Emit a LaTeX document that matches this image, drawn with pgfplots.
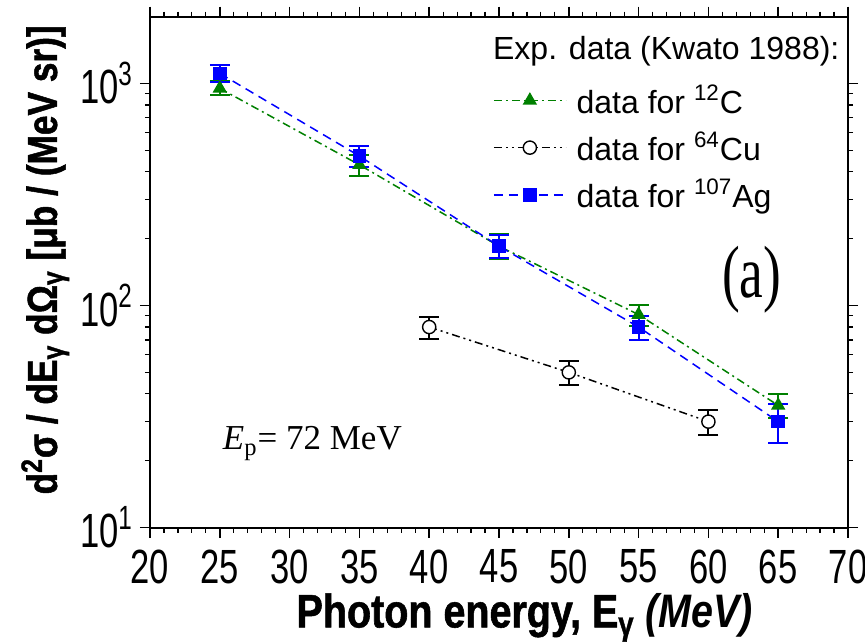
\documentclass[border=0pt]{standalone}
\usepackage{pgfplots}
\pgfplotsset{compat=1.18}
\usepackage{fontspec}
\setmainfont{Liberation Sans}
\newfontfamily\cond[FakeStretch=0.72]{Liberation Sans}
\newfontfamily\labf[FakeStretch=0.84, BoldFeatures={FakeBold=1.2}]{Liberation Sans}
\newfontfamily\serf{Liberation Serif}
\definecolor{cgreen}{RGB}{0,128,0}
\definecolor{cblue}{RGB}{0,0,255}
\pgfplotstableread{
x y ep em
25 950 75 65
35 430 48 48
45 185 24 23
55 91 10 10
65 35.5 4.5 4.5
}\dataC
\pgfplotstableread{
x y ep em
40 80 9 9
50 50 6 6
60 30 4 4
}\dataCu
\pgfplotstableread{
x y ep em
25 1110 100 100
35 471 51 51
45 185 23 22
55 80 9.5 10
65 30 6 6
}\dataAg
\begin{document}
\begin{tikzpicture}
\begin{axis}[
 scale only axis, width=349pt, height=255.5pt,
 xmin=20, xmax=70, ymode=log, ymin=10, ymax=2000,
 xtick={20,25,...,70}, minor x tick num=4,
 ytick={10,100,1000},
 yticklabels={10\textsuperscript{1},10\textsuperscript{2},10\textsuperscript{3}},
 tick align=outside,
 major tick length=5pt, minor tick length=2.5pt,
 axis line style={line width=1pt},
 major tick style={line width=0.8pt, black},
 minor tick style={line width=0.6pt, black},
 /pgf/number format/assume math mode=true,
 xticklabel style={font=\cond\fontsize{24}{24}\selectfont, yshift=-2.5pt},
 yticklabel style={font=\cond\fontsize{24}{24}\selectfont},
 xlabel={\labf\bfseries\fontsize{23.5}{24}\selectfont Photon energy, E\textsubscript{γ} \textit{(MeV)}},
 xlabel style={at={(axis description cs:0.537,-0.176)}, anchor=center},
 ylabel={\labf\bfseries\fontsize{21}{21}\selectfont d\textsuperscript{2}σ / dE\textsubscript{γ} dΩ\textsubscript{γ} [μb / (MeV sr)]},
 ylabel style={at={(axis description cs:-0.15,0.524)}, anchor=center},
 error bars/y dir=both, error bars/y explicit,
 legend style={at={(axis description cs:0.491,0.875)}, anchor=north west, draw=none, fill=none,
   font=\fontsize{16}{19}\selectfont, row sep=4pt, inner sep=0pt,
   nodes={inner xsep=5pt}},
 legend cell align=left,
 legend image code/.code={\draw[mark repeat=2, mark phase=2, #1] plot coordinates {(0pt,0pt) (18pt,0pt) (36pt,0pt)};},
]
\addplot[cgreen, line width=0.75pt, dash pattern=on 4pt off 2pt on 1pt off 2pt,
  mark=triangle*, mark size=3.4pt, mark options={solid},
  error bars/error bar style={line width=1pt, solid},
  error bars/error mark options={rotate=90, mark size=5pt, line width=1pt}]
  table[x=x, y=y, y error plus=ep, y error minus=em] {\dataC};
\addlegendentry{data for \textsuperscript{12}C}
\addplot[black, line width=0.75pt, dash pattern=on 4pt off 2pt on 1pt off 2pt on 1pt off 2pt,
  mark=*, mark size=3.3pt, mark options={solid, fill=white, draw=black, line width=0.7pt},
  error bars/error bar style={line width=1pt, solid},
  error bars/error mark options={rotate=90, mark size=5pt, line width=1pt}]
  table[x=x, y=y, y error plus=ep, y error minus=em] {\dataCu};
\addlegendentry{data for \textsuperscript{64}Cu}
\addplot[cblue, line width=0.75pt, dash pattern=on 4.5pt off 3pt,
  mark=square*, mark size=3pt, mark options={solid},
  error bars/error bar style={line width=1pt, solid},
  error bars/error mark options={rotate=90, mark size=5pt, line width=1pt}]
  table[x=x, y=y, y error plus=ep, y error minus=em] {\dataAg};
\addlegendentry{data for \textsuperscript{107}Ag}
\node[anchor=base west, inner sep=0pt, font=\fontsize{16}{20}\selectfont] at (axis description cs:0.491,0.916) {Exp. data (Kwato 1988):};
\node[anchor=base west, inner sep=0pt, font=\serf\fontsize{17.5}{17.5}\selectfont] at (axis cs:25.2,22.4) {\textit{E}\textsubscript{p}= 72 MeV};
\node[anchor=center, inner sep=0pt] at (axis cs:63.1,131) {\scalebox{0.72}[1]{\serf\fontsize{37}{37}\selectfont (a)}};
\end{axis}
\pgfresetboundingbox
\path ([shift={(-75pt,-57pt)}]current axis.south west) rectangle ([shift={(8.5pt,8.3pt)}]current axis.north east);
\end{tikzpicture}
\end{document}
